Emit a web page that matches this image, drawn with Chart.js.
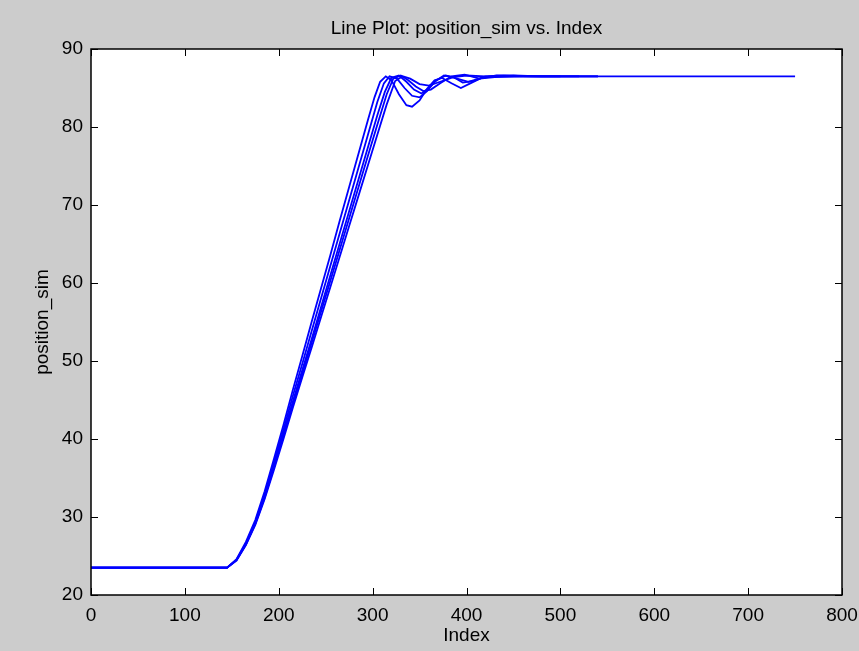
<!DOCTYPE html>
<html>
<head>
<meta charset="utf-8">
<script src="https://cdn.jsdelivr.net/npm/chart.js@4/dist/chart.umd.min.js"></script>
<style>
  html, body { margin: 0; padding: 0; background: #cccccc; }
  canvas { display: block; }
</style>
</head>
<body>
<canvas id="c" width="859" height="651"></canvas>
<script>
// ---- Data ----
const titleText = "Line Plot: position_sim vs. Index";
const xLabel = "Index";
const yLabel = "position_sim";
const xTicks = [0, 100, 200, 300, 400, 500, 600, 700, 800];
const yTicks = [20, 30, 40, 50, 60, 70, 80, 90];

const run1X = [0,145,155,165,175,185,195,205,215,225,235,245,255,265,275,285,295,302,308,314,320,328,336,342,350,358,366,374,384,394,404,416,430,450,480,540];
const run1Y = [23.5,23.5,24.6,26.8,29.6,33.3,37.5,41.8,46.3,50.6,55.0,59.3,63.6,68.0,72.3,76.6,80.9,83.8,85.8,86.5,86.0,84.2,82.8,82.6,83.4,84.9,86.0,86.3,85.6,85.0,85.6,86.3,86.5,86.6,86.5,86.5];

const run2X = [0,145,155,165,175,185,195,205,215,225,235,245,255,265,275,285,295,305,312,318,326,334,342,350,358,366,376,386,396,408,420,440,470,520];
const run2Y = [23.5,23.5,24.5,26.6,29.3,32.9,37.0,41.2,45.5,49.6,53.8,58.0,62.2,66.4,70.6,74.8,79.0,83.2,85.6,86.5,86.2,85.0,84.0,83.8,84.6,85.8,86.6,86.4,85.7,85.9,86.5,86.6,86.5,86.5];

const run3X = [0,145,155,165,175,185,195,205,215,225,235,245,255,265,275,285,295,305,313,320,328,336,344,352,360,368,378,390,402,416,432,460,500];
const run3Y = [23.5,23.5,24.5,26.5,29.2,32.6,36.6,40.7,44.8,48.8,52.8,56.9,61.0,65.1,69.2,73.3,77.4,81.5,84.5,86.3,86.6,85.8,84.8,84.3,85.0,86.0,86.6,86.2,85.8,86.3,86.6,86.5,86.5];

const run4X = [0,145,155,165,175,185,195,205,215,225,235,245,255,265,275,285,295,305,315,322,330,338,346,354,362,372,384,398,414,430,460,540];
const run4Y = [23.5,23.5,24.5,26.5,29.1,32.5,36.4,40.4,44.4,48.4,52.3,56.3,60.3,64.3,68.3,72.3,76.3,80.3,84.2,86.2,86.6,86.0,85.2,84.6,84.8,85.6,86.5,86.7,86.2,86.4,86.5,86.5];

const run5X = [0,145,155,165,175,185,195,205,215,225,235,245,255,265,275,285,295,305,315,324,332,340,350,360,372,386,400,420,450,500,600,750];
const run5Y = [23.5,23.5,24.4,26.4,29.0,32.3,36.1,40.0,44.0,47.9,51.7,55.6,59.5,63.4,67.3,71.2,75.1,79.0,82.9,85.9,86.5,86.2,85.5,85.3,85.8,86.4,86.6,86.5,86.5,86.5,86.5,86.5];

const runs = [[run1X, run1Y], [run2X, run2Y], [run3X, run3Y], [run4X, run4Y], [run5X, run5Y]];

// ---- Styling ----
const FONT = "'Liberation Sans', Arial, sans-serif";
const LINE_COLOR = "#0000ff";

const datasets = runs.map(([xs, ys], k) => ({
  label: "run" + (k + 1),
  data: xs.map((x, i) => ({ x: x, y: ys[i] })),
  borderColor: LINE_COLOR,
  borderWidth: 1.8,
  pointRadius: 0,
  tension: 0,
  fill: false
}));

const matlabFrame = {
  id: "matlabFrame",
  beforeDraw(chart) {
    const { ctx, chartArea: a } = chart;
    ctx.save();
    ctx.fillStyle = "#ffffff";
    ctx.fillRect(a.left, a.top, a.right - a.left, a.bottom - a.top);
    ctx.restore();
  },
  afterDraw(chart) {
    const { ctx, chartArea: a, scales } = chart;
    const tl = 7;
    ctx.save();
    ctx.strokeStyle = "#000000";
    ctx.lineWidth = 1.5;
    ctx.strokeRect(a.left, a.top, a.right - a.left, a.bottom - a.top);
    ctx.lineWidth = 1;
    ctx.beginPath();
    xTicks.forEach(v => {
      const px = Math.round(scales.x.getPixelForValue(v)) + 0.5;
      ctx.moveTo(px, a.bottom); ctx.lineTo(px, a.bottom - tl);
      ctx.moveTo(px, a.top); ctx.lineTo(px, a.top + tl);
    });
    yTicks.forEach(v => {
      const py = Math.round(scales.y.getPixelForValue(v)) + 0.5;
      ctx.moveTo(a.left, py); ctx.lineTo(a.left + tl, py);
      ctx.moveTo(a.right, py); ctx.lineTo(a.right - tl, py);
    });
    ctx.stroke();

    ctx.fillStyle = "#000000";
    ctx.font = "19px " + FONT;
    ctx.textAlign = "center";
    ctx.textBaseline = "middle";
    const cx = (a.left + a.right) / 2;
    ctx.fillText(titleText, cx, 29);
    ctx.fillText(xLabel, cx, 636);
    ctx.translate(43, (a.top + a.bottom) / 2);
    ctx.rotate(-Math.PI / 2);
    ctx.fillText(yLabel, 0, 0);
    ctx.restore();
  }
};

new Chart(document.getElementById("c"), {
  type: "line",
  data: { datasets },
  options: {
    responsive: false,
    animation: false,
    events: [],
    layout: { padding: { top: 49, right: 17, left: 0, bottom: 0 } },
    plugins: { legend: { display: false }, title: { display: false }, tooltip: { enabled: false } },
    scales: {
      x: {
        type: "linear",
        min: 0, max: 800,
        afterBuildTicks: s => { s.ticks = xTicks.map(v => ({ value: v })); },
        afterFit: s => { s.height = 56; s.paddingLeft = 0; s.paddingRight = 0; },
        grid: { display: false, drawTicks: false },
        border: { display: false },
        ticks: { padding: 9, color: "#000", font: { family: FONT, size: 19 }, maxRotation: 0 }
      },
      y: {
        type: "linear",
        min: 20, max: 90,
        afterBuildTicks: s => { s.ticks = yTicks.map(v => ({ value: v })); },
        afterFit: s => { s.width = 91; s.paddingTop = 0; s.paddingBottom = 0; },
        grid: { display: false, drawTicks: false },
        border: { display: false },
        ticks: { padding: 8, color: "#000", font: { family: FONT, size: 19 } }
      }
    }
  },
  plugins: [matlabFrame]
});
</script>
</body>
</html>
